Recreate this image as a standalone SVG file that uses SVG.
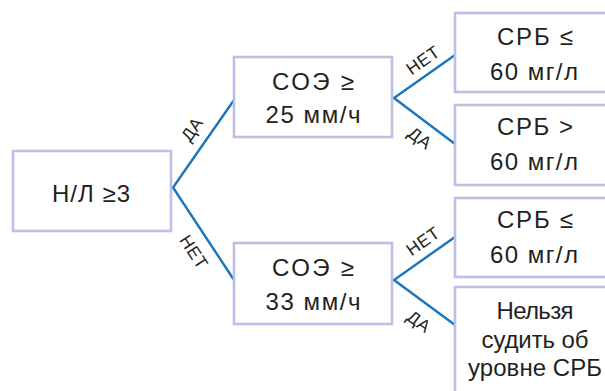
<svg xmlns="http://www.w3.org/2000/svg" width="605" height="391" viewBox="0 0 605 391">
<style>
.box{fill:#fff;stroke:#bcc0e6;stroke-width:2.6}
.t{font-family:"Liberation Sans",Arial,sans-serif;font-size:24px;fill:#231f20;text-anchor:middle}
.lbl{font-family:"Liberation Sans",Arial,sans-serif;font-size:17.5px;letter-spacing:0.6px;fill:#231f20;text-anchor:middle}
.c{fill:none;stroke:#1b75bb;stroke-width:2.4}
</style>
<rect width="605" height="391" fill="#fff"/>
<g id="connectors">
<polyline class="c" points="234,100 173,187.5 234,280"/>
<polyline class="c" points="455,55 394,98 455,144"/>
<polyline class="c" points="455,237 394,280 455,325"/>
<text class="lbl" transform="translate(192,129) rotate(-55)" dy="0.35em">ДА</text>
<text class="lbl" transform="translate(194,252) rotate(57)" dy="0.35em">НЕТ</text>
<text class="lbl" transform="translate(423,60) rotate(-35)" dy="0.35em">НЕТ</text>
<text class="lbl" transform="translate(420,138) rotate(37)" dy="0.35em">ДА</text>
<text class="lbl" transform="translate(423,241) rotate(-35)" dy="0.35em">НЕТ</text>
<text class="lbl" transform="translate(419,321.5) rotate(36)" dy="0.35em">ДА</text>
</g>
<g id="n1">
<rect class="box" x="13" y="151" width="158" height="80"/>
<text class="t" x="91" y="202" textLength="78" lengthAdjust="spacing">Н/Л ≥3</text>
</g>
<g id="n2">
<rect class="box" x="234" y="57" width="158" height="80"/>
<text class="t" x="313" y="90" textLength="82" lengthAdjust="spacing">СОЭ ≥</text>
<text class="t" x="313" y="123" textLength="95" lengthAdjust="spacing">25 мм/ч</text>
</g>
<g id="n3">
<rect class="box" x="234" y="243" width="158" height="81"/>
<text class="t" x="313" y="276" textLength="82" lengthAdjust="spacing">СОЭ ≥</text>
<text class="t" x="313" y="310" textLength="95" lengthAdjust="spacing">33 мм/ч</text>
</g>
<g id="n4">
<rect class="box" x="455" y="13" width="158" height="79"/>
<text class="t" x="535" y="45" textLength="76" lengthAdjust="spacing">СРБ ≤</text>
<text class="t" x="534" y="80" textLength="88" lengthAdjust="spacing">60 мг/л</text>
</g>
<g id="n5">
<rect class="box" x="455" y="105" width="158" height="80"/>
<text class="t" x="535" y="135" textLength="76" lengthAdjust="spacing">СРБ &gt;</text>
<text class="t" x="534" y="170" textLength="88" lengthAdjust="spacing">60 мг/л</text>
</g>
<g id="n6">
<rect class="box" x="455" y="198" width="158" height="79"/>
<text class="t" x="535" y="228" textLength="76" lengthAdjust="spacing">СРБ ≤</text>
<text class="t" x="534" y="263" textLength="88" lengthAdjust="spacing">60 мг/л</text>
</g>
<g id="n7">
<rect class="box" x="455" y="287" width="158" height="110"/>
<text class="t" x="535" y="319" textLength="77" lengthAdjust="spacing">Нельзя</text>
<text class="t" x="535" y="348" textLength="107" lengthAdjust="spacing">судить об</text>
<text class="t" x="535" y="376" textLength="134" lengthAdjust="spacing">уровне СРБ</text>
</g>
</svg>
